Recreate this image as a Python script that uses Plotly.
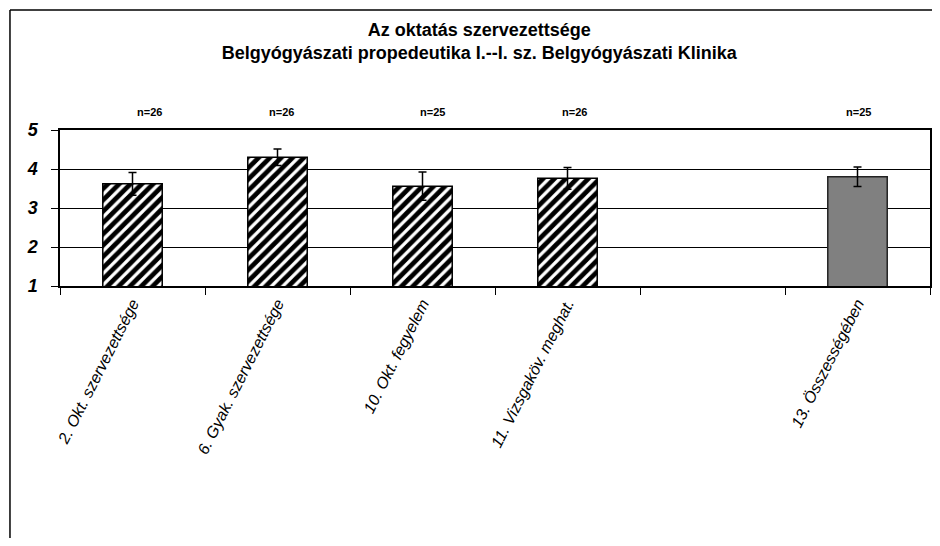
import plotly.graph_objects as go

categories = ["2. Okt. szervezettsége", "6. Gyak. szervezettsége", "10. Okt. fegyelem",
              "11. Vizsgaköv. meghat.", " ", "13. Összességében"]
item_cats = categories[:4]
item_means = [3.62, 4.30, 3.56, 3.76]
item_errors = [0.29, 0.21, 0.36, 0.28]
total_cat = [categories[5]]
total_mean = [3.80]
total_error = [0.25]
n_labels = ["n=26", "n=26", "n=25", "n=26", "", "n=25"]
n_shifts = [17, 4, 10, 7, 0, 1]
y_ticks = [1, 2, 3, 4, 5]

title_lines = ["Az oktatás szervezettsége",
               "Belgyógyászati propedeutika I.--I. sz. Belgyógyászati Klinika"]

fig = go.Figure()
fig.add_trace(go.Bar(
    x=item_cats, y=item_means, width=0.41,
    marker=dict(color="black", line=dict(color="black", width=1.5),
                pattern=dict(shape="/", fgcolor="black", bgcolor="white", fgopacity=1,
                             size=8, solidity=0.6)),
    error_y=dict(type="data", array=item_errors, color="black", thickness=1.5, width=4),
    showlegend=False, hoverinfo="skip"))
fig.add_trace(go.Bar(
    x=total_cat, y=total_mean, width=0.41,
    marker=dict(color="#808080", line=dict(color="#222222", width=1.5)),
    error_y=dict(type="data", array=total_error, color="black", thickness=1.5, width=4),
    showlegend=False, hoverinfo="skip"))

for cat, lab, sh in zip(categories, n_labels, n_shifts):
    if lab:
        fig.add_annotation(x=cat, xref="x", y=1.167, yref="paper", text="<b>" + lab + "</b>",
                           showarrow=False, xshift=sh,
                           font=dict(family="Liberation Sans, Arial", size=11, color="black"))

# outer chart frame: only top and left edges are visible in the picture
fig.add_shape(type="line", xref="paper", yref="paper", x0=-0.0575, x1=1.2, y0=1.769, y1=1.769,
              line=dict(color="black", width=1.5), layer="below")
fig.add_shape(type="line", xref="paper", yref="paper", x0=-0.0575, x1=-0.0575, y0=1.769, y1=-2.0,
              line=dict(color="black", width=1.5), layer="below")

fig.update_layout(
    width=924, height=530,
    margin=dict(l=52, r=2, t=122, b=252, autoexpand=False),
    paper_bgcolor="white", plot_bgcolor="white",
    barmode="overlay",
    font=dict(family="Liberation Sans, Arial", color="black"),
    title=dict(text="<br>".join("<b>" + t + "</b>" for t in title_lines), x=0.51, xanchor="center",
               y=0.947, yanchor="middle",
               font=dict(family="Liberation Sans, Arial", size=18, color="black")),
    xaxis=dict(type="category", categoryorder="array", categoryarray=categories,
               showline=True, linecolor="black", linewidth=2, mirror=True,
               ticks="outside", ticklen=7, tickcolor="black", tickwidth=1, tickson="boundaries",
               showgrid=False, tickangle=-63, automargin=False,
               tickfont=dict(family="Liberation Sans, Arial", size=16, style="italic", color="black")),
    yaxis=dict(range=[1, 5], tickvals=y_ticks, showline=True, linecolor="black", linewidth=1.5,
               mirror=True, ticks="outside", ticklen=7, tickcolor="black", tickwidth=1,
               showgrid=True, gridcolor="black", gridwidth=1, zeroline=False,
               ticklabelstandoff=10, automargin=False,
               tickfont=dict(family="Liberation Sans, Arial", size=18, weight="bold",
                             style="italic", color="black")),
)

fig.write_html("out.html")
